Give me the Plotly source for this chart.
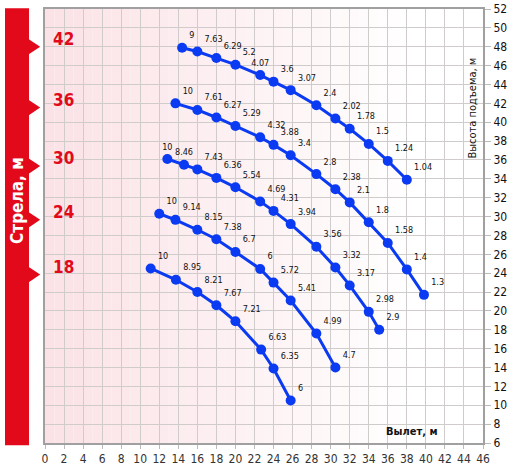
import plotly.graph_objects as go

# boom lengths, m
booms = [42, 36, 30, 24, 18]

# radius (m), hook height (m) and load (t) for every boom
radius_42 = [14.4, 16.0, 18.0, 20.0, 22.6, 24.0, 25.8, 28.5, 30.5, 32.0, 34.0, 36.0, 38.0]
height_42 = [47.9, 47.5, 46.8, 46.1, 45.0, 44.3, 43.4, 41.8, 40.4, 39.3, 37.7, 35.9, 33.9]
load_42 = ["9", "7.63", "6.29", "5.2", "4.07", "3.6", "3.07", "2.4", "2.02", "1.78", "1.5", "1.24", "1.04"]

radius_36 = [13.7, 16.0, 18.0, 20.0, 22.6, 24.0, 25.8, 28.5, 30.5, 32.0, 34.0, 36.0, 38.0, 39.8]
height_36 = [42.0, 41.3, 40.5, 39.6, 38.4, 37.6, 36.5, 34.5, 32.9, 31.5, 29.4, 27.2, 24.4, 21.7]
load_36 = ["10", "7.61", "6.27", "5.29", "4.32", "3.88", "3.4", "2.8", "2.38", "2.1", "1.8", "1.58", "1.4", "1.3"]

radius_30 = [12.85, 14.6, 16.0, 18.0, 20.0, 22.6, 24.0, 25.8, 28.5, 30.5, 32.0, 34.0, 35.1]
height_30 = [36.1, 35.5, 35.0, 34.1, 33.1, 31.6, 30.6, 29.2, 26.8, 24.6, 22.7, 19.9, 18.0]
load_30 = ["10", "8.46", "7.43", "6.36", "5.54", "4.69", "4.31", "3.94", "3.56", "3.32", "3.17", "2.98", "2.9"]

radius_24 = [12.0, 13.7, 16.0, 18.0, 20.0, 22.6, 24.0, 25.8, 28.5, 30.5]
height_24 = [30.3, 29.65, 28.6, 27.6, 26.25, 24.45, 23.0, 21.1, 17.6, 14.0]
load_24 = ["10", "9.14", "8.15", "7.38", "6.7", "6", "5.72", "5.41", "4.99", "4.7"]

radius_18 = [11.1, 13.75, 16.0, 18.0, 20.0, 22.7, 24.0, 25.8]
height_18 = [24.5, 23.3, 22.0, 20.6, 18.9, 15.9, 13.9, 10.5]
load_18 = ["10", "8.95", "8.21", "7.67", "7.21", "6.63", "6.35", "6"]

# where the boom labels sit on the left
boom_label_y = [48.85, 42.4, 36.2, 30.5, 24.7]

x_ticks = list(range(0, 47, 2))
y_ticks = list(range(6, 53, 2))

BLUE = "#0a3af2"
RED = "#e20a1a"
NARROW = "Liberation Sans Narrow, DejaVu Sans Condensed, Arial Narrow, sans-serif"

# a few crowded labels go straight above their point
centred_labels = {(42, 4), (30, 0), (30, 1)}

fig = go.Figure()

curves = [
    (radius_42, height_42, load_42),
    (radius_36, height_36, load_36),
    (radius_30, height_30, load_30),
    (radius_24, height_24, load_24),
    (radius_18, height_18, load_18),
]
for boom, (xs, ys, loads) in zip(booms, curves):
    positions = ["top center" if (boom, i) in centred_labels else "top right" for i in range(len(xs))]
    fig.add_trace(go.Scatter(
        x=xs, y=ys, text=loads,
        mode="lines+markers+text",
        name=f"{boom} м",
        line=dict(color=BLUE, width=3),
        marker=dict(color=BLUE, size=10),
        textposition=positions,
        textfont=dict(family=NARROW, size=9, color="#111"),
        cliponaxis=False,
        hoverinfo="skip",
    ))

# pink-to-white background
shapes = []
n_strips = 46
for i in range(n_strips):
    t = min(i / 38, 1.0)
    r = 251 + (255 - 251) * t
    g = 226 + (255 - 226) * t
    b = 230 + (255 - 230) * t
    shapes.append(dict(type="rect", xref="x", yref="paper", x0=i, x1=i + 1, y0=0, y1=1,
                       fillcolor=f"rgb({r:.0f},{g:.0f},{b:.0f})", line_width=0, layer="below"))

# red boom band on the left
shapes.append(dict(type="rect", xref="paper", yref="paper", x0=-0.0913, x1=-0.0365,
                   y0=-0.005, y1=1.002, fillcolor=RED, line_width=0))
for y in boom_label_y:
    yc = y - 0.85
    shapes.append(dict(type="path", xref="paper", yref="y",
                       path=f"M -0.037 {yc + 0.8} L -0.011 {yc} L -0.037 {yc - 0.8} Z",
                       fillcolor=RED, line_width=0))

fig.update_layout(shapes=shapes)

annotations = []
for boom, y in zip(booms, boom_label_y):
    annotations.append(dict(x=0.6, y=y, xref="x", yref="y", text=f"<b>{boom}</b>",
                            showarrow=False, xanchor="left",
                            font=dict(family=NARROW, size=17, color=RED)))
annotations.append(dict(x=-0.064, y=0.56, xref="paper", yref="paper", text="<b>Стрела, м</b>",
                        showarrow=False, textangle=-90, xanchor="center", yanchor="middle",
                        font=dict(family=NARROW, size=17, color="white")))
annotations.append(dict(x=44.9, y=41.5, xref="x", yref="y", text="Высота подъема, м",
                        showarrow=False, textangle=-90,
                        font=dict(family=NARROW, size=11, color="#111")))
annotations.append(dict(x=38.5, y=7.2, xref="x", yref="y", text="<b>Вылет, м</b>",
                        showarrow=False,
                        font=dict(family=NARROW, size=11, color="#111")))
fig.update_layout(annotations=annotations)

fig.update_xaxes(
    range=[0, 46], tickvals=x_ticks, ticks="outside", ticklen=4, tickcolor="#bbb",
    showgrid=True, gridcolor="#d0cccc", gridwidth=1, zeroline=False,
    showline=True, linecolor="#a0a0a0", linewidth=2, mirror=True, automargin=False,
    tickfont=dict(family=NARROW, size=12, color="#333"),
)
fig.update_yaxes(
    range=[6, 52], tickvals=y_ticks, side="right", ticks="outside", ticklen=6, tickcolor="#bbb",
    showgrid=True, gridcolor="#d0cccc", gridwidth=1, zeroline=False,
    showline=True, linecolor="#a0a0a0", linewidth=2, mirror=True, automargin=False,
    tickfont=dict(family=NARROW, size=12, color="#111"),
    tickprefix="<b>", ticksuffix="</b>",
)

fig.update_layout(
    width=522, height=476,
    margin=dict(l=45, r=39, t=9, b=33),
    paper_bgcolor="white",
    plot_bgcolor="white",
    showlegend=False,
)

fig.write_html("out.html", config={"displayModeBar": False},
               post_script="document.body.style.margin = '0';")
